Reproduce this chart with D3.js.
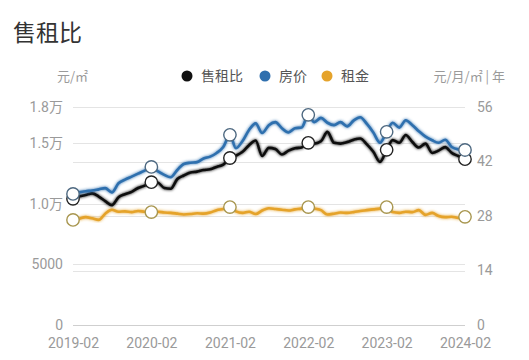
<!DOCTYPE html>
<html><head><meta charset="utf-8">
<script src="https://cdn.jsdelivr.net/npm/d3@7"></script>
<style>
html,body{margin:0;padding:0;background:#fff;}
svg{display:block;font-family:Roboto,"Noto Sans CJK SC",sans-serif;}
</style></head>
<body><svg id="c" width="529" height="360"></svg>
<script>
const title = "售租比";
const startMonth = "2019-02";
const xTickLabels = ["2019-02","2020-02","2021-02","2022-02","2023-02","2024-02"];
const leftTicks = [0, 5000, 10000, 15000, 18000];
const leftTickLabels = ["0","5000","1.0万","1.5万","1.8万"];
const rightTicks = [0, 14, 28, 42, 56];
const seriesNames = ["售租比","房价","租金"];
const seriesColors = ["#111111","#2f6fae","#e5a32b"];
const markerStrokes = ["#222222","#4d6880","#a8964f"];
const leftUnit = "元/㎡";
const rightUnit = "元/月/㎡ | 年";

// 房价 (元/㎡), monthly 2019-02 .. 2024-02
const price = [10820,10950,11050,11100,11200,11300,10950,11700,12000,12250,12500,12750,
  13050,12700,12400,12200,12800,13300,13400,13450,13750,13900,14200,14700,
  15700,14600,15200,16100,16650,15850,16500,16750,16250,15900,16250,16300,
  17350,16750,17100,16700,16500,16750,16400,16900,17150,16600,15900,15050,
  15950,16700,16300,16900,16500,16000,15550,15250,15050,15300,14700,14500,14450];
// 售租比 (年)
const ratio = [32.4,33.0,33.4,33.8,33.0,31.8,30.8,32.8,33.6,34.2,35.2,35.8,
  36.7,36.6,35.2,35.0,37.5,38.4,39.2,39.4,39.8,40.0,40.6,41.2,
  42.9,43.5,44.5,46.2,47.4,43.4,45.5,45.2,43.8,44.8,45.4,45.6,
  46.8,46.6,47.2,49.6,46.8,46.6,47.0,47.6,47.9,46.4,44.5,41.9,
  45.0,47.5,46.8,48.8,47.0,45.6,46.6,44.2,44.8,45.7,44.2,43.4,42.6];
// 租金 (元/月/㎡)
const rent = [27.0,27.3,27.7,27.4,27.0,28.6,29.6,29.1,29.2,29.0,29.3,29.1,
  29.0,29.1,28.9,28.8,28.6,28.4,28.5,28.7,28.6,28.9,29.5,29.8,
  30.3,29.2,28.8,29.1,28.5,29.4,30.0,29.8,29.6,29.4,29.7,29.9,
  30.3,29.9,29.5,28.4,28.6,28.9,28.8,29.0,29.3,29.5,29.7,29.9,
  30.3,29.0,28.8,29.1,29.0,29.5,28.3,28.8,28.0,27.7,27.8,27.5,27.8];

const svg = d3.select("#c");
const pL = 73, pR = 465, pT = 107, pB = 325;

const parse = d3.timeParse("%Y-%m");
const t0 = parse(startMonth);
const dates = price.map((_, i) => d3.timeMonth.offset(t0, i));
const x = d3.scaleTime().domain([t0, dates[dates.length-1]]).range([pL, pR]);
const yL = d3.scaleLinear().domain([0, 18000]).range([pB, pT]);
const yR = d3.scaleLinear().domain([0, 56]).range([pB, pT]);

const defs = svg.append("defs");
seriesColors.forEach((c, i) => {
  const f = defs.append("filter").attr("id", "glow" + i)
    .attr("x", "-5%").attr("y", "-20%").attr("width", "110%").attr("height", "140%");
  f.append("feGaussianBlur").attr("in", "SourceGraphic").attr("stdDeviation", 1.5).attr("result", "b");
  const m = f.append("feMerge");
  m.append("feMergeNode").attr("in", "b");
  m.append("feMergeNode").attr("in", "SourceGraphic");
});

// title
svg.append("text").attr("x", 13).attr("y", 41).attr("font-size", 23)
  .attr("fill", "#333").attr("font-family", "'Noto Sans CJK SC',sans-serif").text(title);

// gridlines
const gridYs = leftTicks.map(v => yL(v)).concat(rightTicks.map(v => yR(v)));
svg.append("g").selectAll("line").data(gridYs).join("line")
  .attr("x1", pL).attr("x2", pR)
  .attr("y1", d => Math.round(d) + 0.5).attr("y2", d => Math.round(d) + 0.5)
  .attr("stroke", "#e4e4e4").attr("stroke-width", 1);
svg.append("line").attr("x1", pL).attr("x2", pR)
  .attr("y1", pB + 0.5).attr("y2", pB + 0.5).attr("stroke", "#cfcfcf");

// left axis
const axL = svg.append("g").attr("transform", `translate(${pL - 10},0)`)
  .call(d3.axisLeft(yL).tickValues(leftTicks).tickFormat((d, i) => leftTickLabels[i]).tickSize(0).tickPadding(0));
axL.select(".domain").remove();
axL.selectAll("text").attr("font-size", 14).attr("fill", "#9a9a9a").attr("font-family", "Roboto,'Noto Sans CJK SC',sans-serif");

// right axis
const axR = svg.append("g").attr("transform", `translate(${pR + 12},0)`)
  .call(d3.axisRight(yR).tickValues(rightTicks).tickSize(0).tickPadding(0));
axR.select(".domain").remove();
axR.selectAll("text").attr("font-size", 14).attr("fill", "#9a9a9a").attr("font-family", "Roboto,sans-serif");

// x axis
const xTickDates = xTickLabels.map(parse);
const axX = svg.append("g").attr("transform", `translate(0,${pB + 10})`)
  .call(d3.axisBottom(x).tickValues(xTickDates).tickFormat((d, i) => xTickLabels[i]).tickSize(0).tickPadding(3));
axX.select(".domain").remove();
axX.selectAll("text").attr("font-size", 14).attr("fill", "#9a9a9a").attr("font-family", "Roboto,sans-serif");

// units
svg.append("text").attr("x", 57).attr("y", 81).attr("font-size", 13).attr("fill", "#9a9a9a")
  .attr("font-family", "'Noto Sans CJK SC',sans-serif").text(leftUnit);
svg.append("text").attr("x", 505).attr("y", 81).attr("text-anchor", "end").attr("font-size", 13).attr("fill", "#9a9a9a")
  .attr("font-family", "'Noto Sans CJK SC',sans-serif").text(rightUnit);

// legend
const legX = [187, 265, 327];
const lg = svg.append("g");
seriesNames.forEach((n, i) => {
  lg.append("circle").attr("cx", legX[i]).attr("cy", 76).attr("r", 5.5).attr("fill", seriesColors[i]);
  lg.append("text").attr("x", legX[i] + 14).attr("y", 81).attr("font-size", 14).attr("fill", "#555")
    .attr("font-family", "'Noto Sans CJK SC',sans-serif").text(n);
});

// lines
const series = [
  {vals: rent, y: yR, ci: 2},
  {vals: ratio, y: yR, ci: 0},
  {vals: price, y: yL, ci: 1}
];
series.forEach(s => {
  const line = d3.line().x((d, i) => x(dates[i])).y(d => s.y(d)).curve(d3.curveMonotoneX);
  svg.append("path").datum(s.vals).attr("d", line).attr("fill", "none")
    .attr("stroke", seriesColors[s.ci]).attr("stroke-width", 2.6)
    .attr("stroke-linejoin", "round").attr("stroke-linecap", "round")
    .attr("filter", `url(#glow${s.ci})`);
});
series.forEach(s => {
  const idx = s.vals.map((d, i) => i).filter(i => i % 12 === 0);
  svg.append("g").selectAll("circle").data(idx).join("circle")
    .attr("cx", i => x(dates[i])).attr("cy", i => s.y(s.vals[i])).attr("r", 6.2)
    .attr("fill", "#fff").attr("stroke", markerStrokes[s.ci]).attr("stroke-width", 1.4);
});
</script></body></html>
